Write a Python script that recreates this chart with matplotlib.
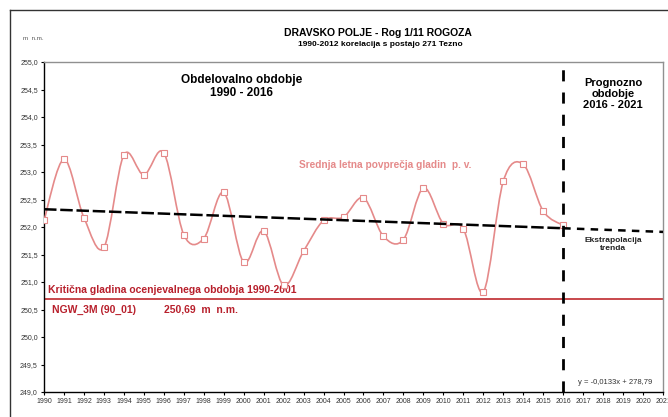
import numpy as np
import matplotlib.pyplot as plt
from matplotlib.path import Path
from matplotlib.patches import PathPatch
from matplotlib.lines import Line2D

plt.rcParams['font.family'] = ['Liberation Sans', 'DejaVu Sans']

# annual mean groundwater levels (m n.m.)
years = list(range(1990, 2017))
levels = [252.12, 253.23, 252.17, 251.63, 253.31, 252.95, 253.35, 251.86, 251.79,
          252.63, 251.36, 251.93, 250.94, 251.56, 252.12, 252.18, 252.53, 251.83,
          251.77, 252.71, 252.06, 251.97, 250.82, 252.83, 253.14, 252.29, 252.03]
trend_slope = -0.0133
trend_icept = 278.79
critical = 250.69
yticks = [249.0, 249.5, 250.0, 250.5, 251.0, 251.5, 252.0, 252.5, 253.0, 253.5, 254.0, 254.5, 255.0]
xticks = list(range(1990, 2022))

line_col = '#e58a8a'
crit_col = '#c8484c'
crit_txt = '#b8202c'

fig = plt.figure(figsize=(6.68, 4.17), dpi=100)
ax = fig.add_axes([44 / 668, 25 / 417, 619 / 668, 330 / 417])

# smoothed series (Excel-like bezier through the points)
x = np.array(years, float)
y = np.array(levels, float)
pts = np.column_stack([x, y])
ext = np.vstack([pts[0], pts, pts[-1]])
verts = [tuple(pts[0])]
codes = [Path.MOVETO]
for i in range(len(pts) - 1):
    p0, p1, p2, p3 = ext[i], ext[i + 1], ext[i + 2], ext[i + 3]
    c1 = p1 + (p2 - p0) / 6
    c2 = p2 - (p3 - p1) / 6
    verts += [tuple(c1), tuple(c2), tuple(p2)]
    codes += [Path.CURVE4] * 3
ax.add_patch(PathPatch(Path(verts, codes), facecolor='none', edgecolor=line_col, lw=1.2, zorder=3))
ax.plot(x, y, ls='none', marker='s', ms=5, mfc='white', mec=line_col, mew=0.8, zorder=4)

# trend line and extrapolation
tx = np.array([1990, 2016])
ax.plot(tx, trend_slope * tx + trend_icept, color='black', lw=1.8, dashes=(5, 1.5), zorder=5)
tx2 = np.array([2016, 2021])
ax.plot(tx2, trend_slope * tx2 + trend_icept, color='black', lw=1.8, dashes=(3, 2.5), zorder=5)

# boundary between periods
ax.axvline(2016, color='black', lw=2, dashes=(4, 4), zorder=6)

# critical level
ax.axhline(critical, color=crit_col, lw=1.4, zorder=2)
ax.text(1990.2, critical + 0.07, 'Kritična gladina ocenjevalnega obdobja 1990-2001',
        color=crit_txt, fontsize=7.5, fontweight='bold', va='bottom')
ax.text(1990.4, critical - 0.1, 'NGW_3M (90_01)', color=crit_txt, fontsize=7.5,
        fontweight='bold', va='top')
ax.text(1996.0, critical - 0.1, '250,69  m  n.m.', color=crit_txt, fontsize=7.5,
        fontweight='bold', va='top')

ax.text(2007.1, 253.12, 'Srednja letna povprečja gladin  p. v.', color=line_col,
        fontsize=7.3, fontweight='bold', ha='center', va='center')
ax.text(1999.9, 254.55, 'Obdelovalno obdobje\n1990 - 2016', fontsize=8.5,
        fontweight='bold', ha='center', va='center', linespacing=1.1)
ax.text(2018.5, 254.42, 'Prognozno\nobdobje\n2016 - 2021', fontsize=8,
        fontweight='bold', ha='center', va='center', linespacing=1.15)
ax.text(2018.5, 251.68, 'Ekstrapolacija\ntrenda', fontsize=6, fontweight='bold',
        ha='center', va='center', color='#222222')
ax.text(2018.6, 249.17, 'y = -0,0133x + 278,79', fontsize=5.5, ha='center',
        va='center', color='#333333')

ax.set_xlim(1990, 2021)
ax.set_ylim(249, 255)
ax.set_xticks(xticks)
ax.set_xticklabels([str(v) for v in xticks], fontsize=5, color='#333333')
ax.set_yticks(yticks)
ax.set_yticklabels([f'{v:.1f}'.replace('.', ',') for v in yticks], fontsize=5, color='#333333')
ax.tick_params(axis='both', length=2.5, width=0.8, pad=2)
for s in ['left', 'bottom']:
    ax.spines[s].set_color('black')
    ax.spines[s].set_linewidth(1.0)
for s in ['top', 'right']:
    ax.spines[s].set_color('#909090')
    ax.spines[s].set_linewidth(1.0)

fig.text(378 / 668, 1 - 33 / 417, 'DRAVSKO POLJE - Rog 1/11 ROGOZA', fontsize=7.5,
         fontweight='bold', ha='center', va='center')
fig.text(380 / 668, 1 - 45 / 417, '1990-2012 korelacija s postajo 271 Tezno', fontsize=6,
         fontweight='bold', ha='center', va='center')
fig.text(33 / 668, 1 - 38 / 417, 'm  n.m.', fontsize=4.5, ha='center', va='center', color='#555555')

# outer chart border
fig.add_artist(Line2D([10 / 668, 10 / 668], [0, 1 - 10 / 417], color='#333333', lw=1))
fig.add_artist(Line2D([10 / 668, 1], [1 - 10 / 417, 1 - 10 / 417], color='#333333', lw=1))

fig.savefig('out.png', dpi=100)
